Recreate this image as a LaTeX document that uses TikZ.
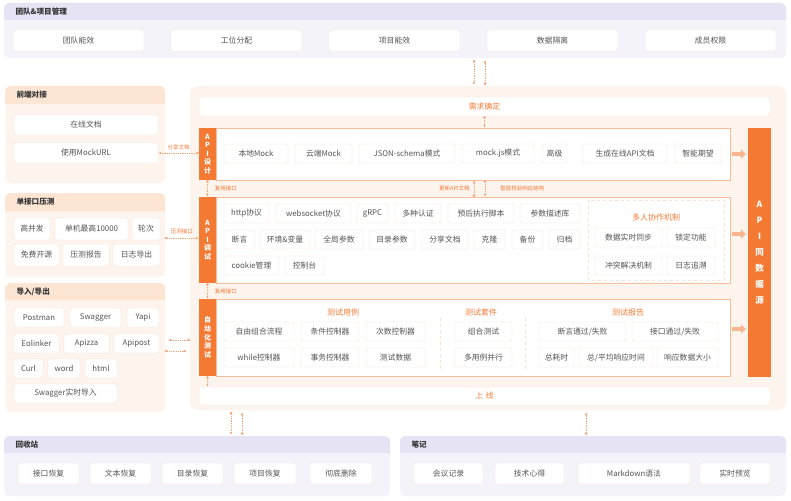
\documentclass[tikz,border=0pt]{standalone}
\usepackage{fontspec}
\setmainfont{Noto Sans CJK SC}
\usetikzlibrary{arrows.meta}
\definecolor{ora}{HTML}{F47A34}
\definecolor{orabg}{HTML}{FDF4EE}
\definecolor{orahd}{HTML}{FCE5D3}
\definecolor{orabd}{HTML}{F6E3D6}
\definecolor{lavbg}{HTML}{F4F3FA}
\definecolor{lavhd}{HTML}{E5E3F4}
\definecolor{txt}{HTML}{555555}
\tikzset{
  cellbox/.style={draw=orabd,fill=white,rounded corners=1.5pt,inner sep=0pt,text=txt,font=\fontsize{7.8}{8}\selectfont},
  bar/.style={draw=orabd,fill=white,rounded corners=2pt,inner sep=0pt,text=ora,font=\fontsize{7.8}{8}\selectfont},
  side/.style={fill=ora,inner sep=0pt,text=white,font=\bfseries\fontsize{7}{8.6}\selectfont,align=center},
  hdtxt/.style={anchor=west,text=black!80,font=\bfseries\fontsize{7.6}{8}\selectfont},
  lbl/.style={text=ora,font=\fontsize{5.5}{6}\selectfont,inner sep=1pt},
  ttl/.style={text=ora,font=\fontsize{8}{8}\selectfont},
  flow/.style={ora!70,densely dotted,thick,{Circle[length=2.5pt,open=false]}-{Latex[length=3pt]}},
  big/.style={ora!55,line width=3.5pt,-{Triangle[length=5pt,width=9pt]}}
}
\newcommand\cell[6]{\node[cellbox,minimum width={(#3-#2)*1pt},minimum height={(#5-#4)*1pt}] (#1) at ({(#2+#3)/2},{(#4+#5)/2}) {#6};}
\newcommand\panel[7]{% name x1 x2 y1 y2 yh title; header colour, body colour via #7 style
  \fill[#7bg,rounded corners=6pt] (#2,#4) rectangle (#3,#5);
  \fill[#7hd] (#2,#6) [rounded corners=6pt] -- (#2,#4) -- (#3,#4) [sharp corners] -- (#3,#6) -- cycle;
  \coordinate (#1) at ({(#2+#3)/2},{(#4+#5)/2});}
\begin{document}
\begin{tikzpicture}[x=1pt,y=-1pt]
\useasboundingbox[fill=white] (0,0) rectangle (791,500);
% team panel
\panel{team}{4}{786}{3}{58}{20}{lav}
\node[hdtxt] at (12,11.5) {团队\&项目管理};
\cell{t1}{13}{144}{30}{51}{团队能效}
\cell{t2}{171}{302}{30}{51}{工位分配}
\cell{t3}{329}{460}{30}{51}{项目能效}
\cell{t4}{487}{618}{30}{51}{数据隔离}
\cell{t5}{645}{776}{30}{51}{成员权限}
% left panels
\panel{fe}{5}{165}{86}{183}{104}{ora}
\node[hdtxt] at (13,95) {前端对接};
\cell{f1}{14}{158}{115}{135}{在线文档}
\cell{f2}{14}{158}{143}{163}{使用MockURL}
\panel{pt}{5}{165}{193}{277}{211}{ora}
\node[hdtxt] at (13,202) {单接口压测};
\cell{p1}{14}{50}{218}{240}{高并发}
\cell{p2}{55}{128}{218}{240}{单机最高10000}
\cell{p3}{132}{160}{218}{240}{轮次}
\cell{p4}{14}{59}{244}{266}{免费开源}
\cell{p5}{63}{109}{244}{266}{压测报告}
\cell{p6}{113}{160}{244}{266}{日志导出}
\panel{io}{5}{165}{283}{412}{300}{ora}
\node[hdtxt] at (13,291.5) {导入/导出};
\cell{i1}{14}{64}{308}{327}{Postman}
\cell{i2}{70}{121}{308}{327}{Swagger}
\cell{i3}{127}{159}{308}{327}{Yapi}
\cell{i4}{14}{59}{334}{353}{Eolinker}
\cell{i5}{64}{109}{334}{353}{Apizza}
\cell{i6}{114}{159}{334}{353}{Apipost}
\cell{i7}{14}{43}{359}{378}{Curl}
\cell{i8}{48}{80}{359}{378}{word}
\cell{i9}{85}{117}{359}{378}{html}
\cell{i10}{14}{117}{384}{403}{Swagger实时导入}
% main panel
\fill[orabg,rounded corners=8pt] (190,86) rectangle (786,410);
\node[bar,minimum width=571pt,minimum height=19pt] (req) at (484.5,106.5) {需求确定};
\node[bar,minimum width=571pt,minimum height=18pt] (live) at (484.5,396) {上\,\,线};
\node[side,minimum width=23pt,minimum height=249pt,font=\bfseries\fontsize{8.5}{16}\selectfont] (src) at (759.5,252.5) {A\\P\\I\\同\\数\\据\\源};
% API design
\draw[ora!50,fill=white] (216,128) rectangle (730,180);
\node[side,minimum width=17pt,minimum height=52pt] (des) at (207.5,154) {A\\P\\I\\设\\计};
\cell{d1}{224}{288}{144}{163}{本地Mock}
\cell{d2}{295}{352}{144}{163}{云端Mock}
\cell{d3}{359}{455}{144}{163}{JSON-schema模式}
\cell{d4}{462}{534}{144}{163}{mock.js模式}
\cell{d5}{542}{567}{144}{163}{高级}
\cell{d6}{583}{667}{144}{163}{生成在线API文档}
\cell{d7}{675}{721}{144}{163}{智能期望}
% API debug
\draw[ora!50,fill=white] (216,197) rectangle (730,283);
\node[side,minimum width=17pt,minimum height=86pt] (dbg) at (207.5,240) {A\\P\\I\\调\\试};
\cell{g1}{224}{269}{204}{223}{http协议}
\cell{g2}{276}{351}{204}{223}{websocket协议}
\cell{g3}{357}{388}{204}{223}{gRPC}
\cell{g4}{395}{441}{204}{223}{多种认证}
\cell{g5}{448}{514}{204}{223}{预后执行脚本}
\cell{g6}{520}{580}{204}{223}{参数描述库}
\cell{g7}{224}{255}{230}{249}{断言}
\cell{g8}{260}{310}{230}{249}{环境\&变量}
\cell{g9}{315}{363}{230}{249}{全局参数}
\cell{g10}{369}{415}{230}{249}{目录参数}
\cell{g11}{422}{468}{230}{249}{分享文档}
\cell{g12}{474}{505}{230}{249}{克隆}
\cell{g13}{512}{543}{230}{249}{备份}
\cell{g14}{549}{580}{230}{249}{归档}
\cell{g15}{224}{279}{256}{275}{cookie管理}
\cell{g16}{285}{324}{256}{275}{控制台}
\draw[orabd,dashed] (588,200) rectangle (724,280);
\node[ttl] (co) at (656,217) {多人协作机制};
\cell{c1}{595}{662}{228}{247}{数据实时同步}
\cell{c2}{667}{715}{228}{247}{锁定功能}
\cell{c3}{595}{662}{256}{275}{冲突解决机制}
\cell{c4}{667}{715}{256}{275}{日志追溯}
% auto test
\draw[ora!50,fill=white] (216,299) rectangle (730,376);
\node[side,minimum width=17pt,minimum height=77pt] (aut) at (207.5,337.5) {自\\动\\化\\测\\试};
\node[ttl] at (343,312) {测试用例};
\node[ttl] at (481,312) {测试套件};
\node[ttl] at (628,312) {测试报告};
\draw[orabd,dashed] (440,318) -- (440,370) (525,318) -- (525,370);
\cell{a1}{224}{294}{322}{341}{自由组合流程}
\cell{a2}{301}{359}{322}{341}{条件控制器}
\cell{a3}{366}{425}{322}{341}{次数控制器}
\cell{a4}{455}{512}{322}{341}{组合测试}
\cell{a5}{539}{626}{322}{341}{断言通过/失败}
\cell{a6}{632}{718}{322}{341}{接口通过/失败}
\cell{a7}{224}{294}{348}{367}{while控制器}
\cell{a8}{301}{359}{348}{367}{事务控制器}
\cell{a9}{366}{425}{348}{367}{测试数据}
\cell{a10}{455}{512}{348}{367}{多用例并行}
\cell{a11}{539}{574}{348}{367}{总耗时}
\cell{a12}{579}{653}{348}{367}{总/平均响应时间}
\cell{a13}{657}{718}{348}{367}{响应数据大小}
% bottom panels
\panel{bin}{4}{390}{436}{496}{453}{lav}
\node[hdtxt] at (12,444.5) {回收站};
\cell{b1}{18}{79}{463}{484}{接口恢复}
\cell{b2}{90}{151}{463}{484}{文本恢复}
\cell{b3}{162}{223}{463}{484}{目录恢复}
\cell{b4}{234}{296}{463}{484}{项目恢复}
\cell{b5}{310}{372}{463}{484}{彻底删除}
\panel{note}{400}{786}{436}{496}{453}{lav}
\node[hdtxt] at (408,444.5) {笔记};
\cell{n1}{414}{483}{463}{484}{会议记录}
\cell{n2}{495}{564}{463}{484}{技术心得}
\cell{n3}{578}{690}{463}{484}{Markdown语法}
\cell{n4}{700}{770}{463}{484}{实时预览}
% connectors
\coordinate (tA) at (474,60); \coordinate (tB) at (485,60);
\coordinate (mA) at (474,85); \coordinate (mB) at (485,85);
\draw[flow] (tA) -- (mA); \draw[flow] (mB) -- (tB);
\draw[flow] (req.south) -- (req.south |- des.north);
\draw[flow] (des.south) -- (dbg.north) node[lbl,midway,right=6pt] {复用接口};
\draw[flow] (dbg.south) -- (aut.north) node[lbl,midway,right=6pt] {复用接口};
\draw[flow] (aut.south) -- (live.north -| aut.south);
\draw[flow] (474,197) -- (474,180) node[lbl,midway,left=3pt] {更新API文档};
\draw[flow] (485,180) -- (485,197) node[lbl,midway,right=14pt] {智能校验响应结构};
\draw[flow] (des.west |- f2.east) -- (f2.east) node[lbl,midway,above=2pt] {分享文档};
\coordinate (ptR) at (165,238);
\draw[flow] (ptR) -- (dbg.west |- ptR) node[lbl,midway,above=3pt] {压测接口};
\draw[flow] (190,340) -- (168,340);
\draw[flow] (165,351) -- (187,351);
\draw[flow] (231,412) -- (231,435);
\draw[flow] (242,435) -- (242,412);
\draw[flow] (586,435) -- (586,412);
\draw[big] (732,154) -- (746,154);
\draw[big] (732,234) -- (746,234);
\draw[big] (732,329) -- (746,329);
\end{tikzpicture}
\end{document}
